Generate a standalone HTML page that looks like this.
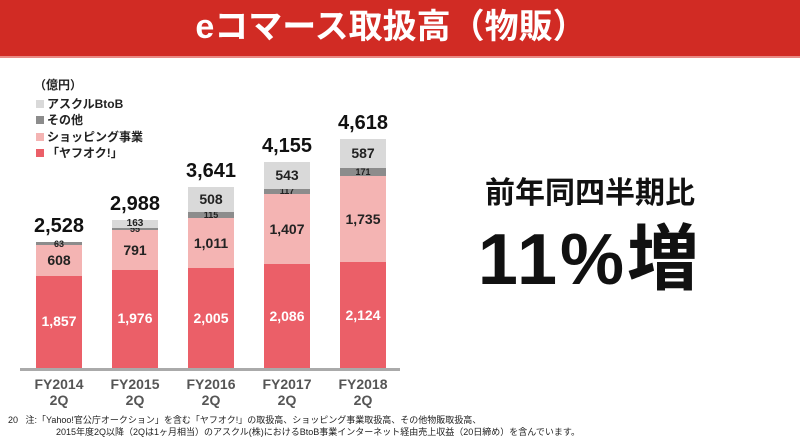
<!DOCTYPE html>
<html><head><meta charset="utf-8"><style>
body{margin:0;width:800px;height:448px;overflow:hidden;background:#fff;font-family:"Liberation Sans","Noto Sans CJK JP",sans-serif;position:relative}
.hdr{position:absolute;left:0;top:0;width:800px;height:56px;background:#d12b24;border-bottom:2px solid #e98a85}
.title{position:absolute;left:0;top:4px;width:782px;text-align:center;color:#fff;font-size:34px;font-weight:bold;line-height:46px}
.a{position:absolute;font-weight:bold;color:#222;text-align:center;white-space:nowrap}
.seg{position:absolute}
.lg{position:absolute;left:36px;font-size:12px;font-weight:bold;color:#222;line-height:14px}
.lg i{display:inline-block;width:8px;height:8px;margin-right:3px}
</style></head><body>
<div class="hdr"></div>
<div class="title">eコマース取扱高（物販）</div>
<div class="lg" style="top:78px;left:34px">（億円）</div>
<div class="lg" style="top:97px"><i style="background:#d9d9d9"></i>アスクルBtoB</div>
<div class="lg" style="top:113px"><i style="background:#8c8c8c"></i>その他</div>
<div class="lg" style="top:130px"><i style="background:#f4b4b3"></i>ショッピング事業</div>
<div class="lg" style="top:146px"><i style="background:#eb5f68"></i>「ヤフオク!」</div>
<div id="bars"></div>
<div style="position:absolute;left:20px;top:368px;width:380px;height:3px;background:#aaa"></div>
<div class="a" style="left:440px;top:176px;width:300px;font-size:30px;line-height:36px;color:#111">前年同四半期比</div>
<div class="a" style="left:440px;top:220px;width:300px;font-size:72px;line-height:80px;color:#111;letter-spacing:3px">11%増</div>
<div style="position:absolute;left:8px;top:414px;font-size:9px;color:#222;line-height:12px;white-space:nowrap">20&nbsp;&nbsp;&nbsp;注:「Yahoo!官公庁オークション」を含む「ヤフオク!」の取扱高、ショッピング事業取扱高、その他物販取扱高、<br><span style="padding-left:48px">2015年度2Q以降（2Qは1ヶ月相当）のアスクル(株)におけるBtoB事業インターネット経由売上収益（20日締め）を含んでいます。</span></div>
<script>
var d=[[1857,608,63,0,"2,528","FY2014"],[1976,791,55,163,"2,988","FY2015"],[2005,1011,115,508,"3,641","FY2016"],[2086,1407,117,543,"4,155","FY2017"],[2124,1735,171,587,"4,618","FY2018"]];
var col=["#eb5f68","#f4b4b3","#8c8c8c","#d9d9d9"],tc=["#fff","#222","#222","#222"];
var h="",s=0.0497;
d.forEach(function(r,i){var x=36+i*76,y=368;
for(var k=0;k<4;k++){var v=r[k];if(!v)continue;var hh=v*s;y-=hh;
h+='<div class="seg" style="left:'+x+'px;top:'+y+'px;width:46px;height:'+hh+'px;background:'+col[k]+'"></div>';
var fs=k==2?9:(v<200?10:14);
h+='<div class="a" style="left:'+(x-10)+'px;width:66px;top:'+(y+hh/2-fs*0.6)+'px;font-size:'+fs+'px;line-height:'+(fs*1.2)+'px;color:'+tc[k]+'">'+v.toLocaleString("en-US")+'</div>';}
h+='<div class="a" style="left:'+(x-20)+'px;width:86px;top:'+(y-28)+'px;font-size:20px;line-height:24px;color:#111">'+r[4]+'</div>';
h+='<div class="a" style="left:'+(x-20)+'px;width:86px;top:376px;font-size:14px;line-height:16px;color:#555">'+r[5]+'<br>2Q</div>';});
document.getElementById("bars").innerHTML=h;
</script>
</body></html>
